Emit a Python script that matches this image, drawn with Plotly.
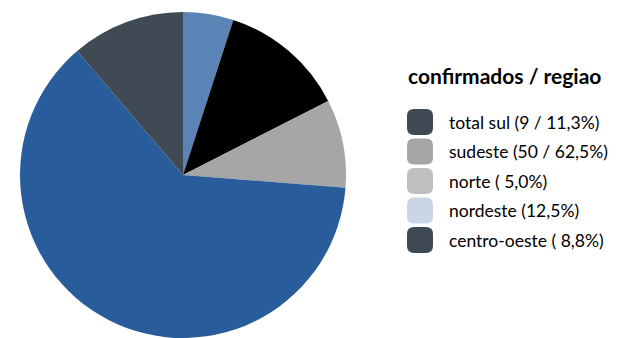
import plotly.graph_objects as go

# Slices, clockwise from 12 o'clock
slice_names = ["norte", "nordeste", "centro-oeste", "sudeste", "total sul"]
slice_values = [4, 10, 7, 50, 9]
slice_colors = ["#5b84b6", "#000000", "#a6a6a6", "#285c9b", "#404a55"]

# Legend block
legend_title = "confirmados / regiao"
legend_labels = [
    "total sul (9 / 11,3%)",
    "sudeste (50 / 62,5%)",
    "norte ( 5,0%)",
    "nordeste (12,5%)",
    "centro-oeste ( 8,8%)",
]
legend_colors = ["#404a55", "#a6a6a6", "#bfbfbf", "#c8d6e8", "#404a55"]

W, H = 620, 338
FONT = "Lato"

fig = go.Figure(
    go.Pie(
        labels=slice_names,
        values=slice_values,
        marker=dict(colors=slice_colors, line=dict(width=0)),
        sort=False,
        direction="clockwise",
        rotation=0,
        textinfo="none",
        showlegend=False,
        domain=dict(x=[20 / W, 346 / W], y=[0, 326 / H]),
    )
)

shapes = []
annotations = [
    dict(
        text="<b>" + legend_title + "</b>",
        x=406 / W, y=1 - 75 / H, xref="paper", yref="paper",
        xanchor="left", yanchor="middle", showarrow=False,
        font=dict(family=FONT, size=21, color="#000000"),
    )
]

row0, step = 122, 29.5
half, r = 13, 7
rounded = (
    f"M {-half + r},{-half} L {half - r},{-half} Q {half},{-half} {half},{-half + r} "
    f"L {half},{half - r} Q {half},{half} {half - r},{half} "
    f"L {-half + r},{half} Q {-half},{half} {-half},{half - r} "
    f"L {-half},{-half + r} Q {-half},{-half} {-half + r},{-half} Z"
)
for i, (lab, col) in enumerate(zip(legend_labels, legend_colors)):
    yc = row0 + i * step
    shapes.append(
        dict(
            type="path", xref="paper", yref="paper",
            xsizemode="pixel", ysizemode="pixel",
            xanchor=420 / W, yanchor=1 - yc / H,
            path=rounded, fillcolor=col, line=dict(width=0),
        )
    )
    annotations.append(
        dict(
            text=lab, x=447 / W, y=1 - yc / H, xref="paper", yref="paper",
            xanchor="left", yanchor="middle", showarrow=False,
            font=dict(family=FONT, size=17.5, color="#000000"),
        )
    )

fig.update_layout(
    width=W, height=H,
    margin=dict(l=0, r=0, t=0, b=0),
    paper_bgcolor="white", plot_bgcolor="white",
    shapes=shapes, annotations=annotations,
)

fig.write_html("out.html")
